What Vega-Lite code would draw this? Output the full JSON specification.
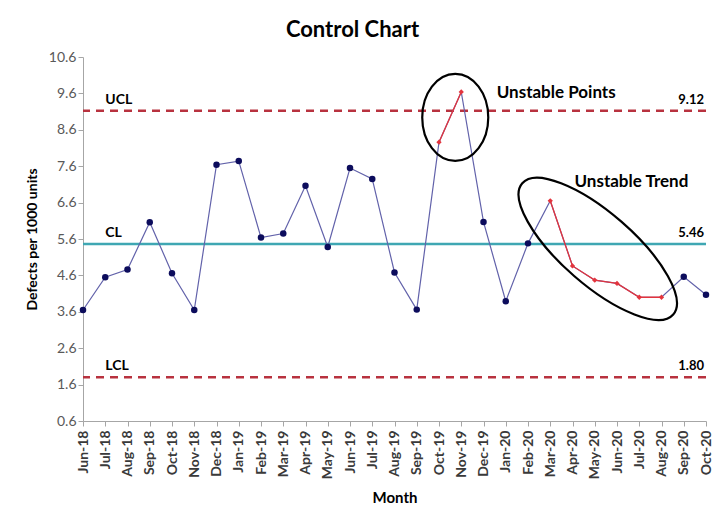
{
  "$schema": "https://vega.github.io/schema/vega-lite/v6.json",
  "description": "Control chart of defects per 1000 units with control limits and flagged unstable points.",
  "width": 623,
  "height": 364,
  "autosize": {"type": "none"},
  "padding": {"left": 83, "top": 57, "right": 14, "bottom": 103},
  "background": "#ffffff",
  "title": {
    "text": "Control Chart",
    "font": "Lato",
    "fontSize": 22,
    "fontWeight": "bold",
    "color": "#000000",
    "anchor": "middle",
    "dx": -42,
    "offset": 8
  },
  "datasets": {
    "series": [
      {"month": "Jun-18", "defects": 3.65, "flag": ""},
      {"month": "Jul-18", "defects": 4.55, "flag": ""},
      {"month": "Aug-18", "defects": 4.76, "flag": ""},
      {"month": "Sep-18", "defects": 6.06, "flag": ""},
      {"month": "Oct-18", "defects": 4.66, "flag": ""},
      {"month": "Nov-18", "defects": 3.65, "flag": ""},
      {"month": "Dec-18", "defects": 7.64, "flag": ""},
      {"month": "Jan-19", "defects": 7.74, "flag": ""},
      {"month": "Feb-19", "defects": 5.64, "flag": ""},
      {"month": "Mar-19", "defects": 5.75, "flag": ""},
      {"month": "Apr-19", "defects": 7.06, "flag": ""},
      {"month": "May-19", "defects": 5.38, "flag": ""},
      {"month": "Jun-19", "defects": 7.55, "flag": ""},
      {"month": "Jul-19", "defects": 7.25, "flag": ""},
      {"month": "Aug-19", "defects": 4.68, "flag": ""},
      {"month": "Sep-19", "defects": 3.66, "flag": ""},
      {"month": "Oct-19", "defects": 8.26, "flag": "points"},
      {"month": "Nov-19", "defects": 9.64, "flag": "points"},
      {"month": "Dec-19", "defects": 6.07, "flag": ""},
      {"month": "Jan-20", "defects": 3.89, "flag": ""},
      {"month": "Feb-20", "defects": 5.48, "flag": ""},
      {"month": "Mar-20", "defects": 6.65, "flag": "trend"},
      {"month": "Apr-20", "defects": 4.86, "flag": "trend"},
      {"month": "May-20", "defects": 4.47, "flag": "trend"},
      {"month": "Jun-20", "defects": 4.38, "flag": "trend"},
      {"month": "Jul-20", "defects": 4.0, "flag": "trend"},
      {"month": "Aug-20", "defects": 4.0, "flag": "trend"},
      {"month": "Sep-20", "defects": 4.56, "flag": ""},
      {"month": "Oct-20", "defects": 4.07, "flag": ""}
    ],
    "limits": [
      {"name": "UCL", "value": 9.12},
      {"name": "CL", "value": 5.46},
      {"name": "LCL", "value": 1.8}
    ],
    "notes": [
      {"note": "Unstable Points", "month": "Jan-20", "value": 9.6},
      {"note": "Unstable Trend", "month": "Apr-20", "value": 7.16}
    ],
    "rings": [
      {"ring": "points", "month": "Nov-19", "value": 8.94},
      {"ring": "trend", "month": "May-20", "value": 5.33}
    ]
  },
  "encoding": {
    "x": {
      "field": "month",
      "type": "ordinal",
      "title": "Month",
      "scale": {
        "type": "point",
        "padding": 0,
        "domain": ["Jun-18", "Jul-18", "Aug-18", "Sep-18", "Oct-18", "Nov-18", "Dec-18",
                   "Jan-19", "Feb-19", "Mar-19", "Apr-19", "May-19", "Jun-19", "Jul-19", "Aug-19", "Sep-19", "Oct-19", "Nov-19", "Dec-19",
                   "Jan-20", "Feb-20", "Mar-20", "Apr-20", "May-20", "Jun-20", "Jul-20", "Aug-20", "Sep-20", "Oct-20"]
      },
      "axis": {
        "labelAngle": -90,
        "labelFontWeight": "bold",
        "labelFontSize": 14,
        "labelColor": "#3a3a3a",
        "labelPadding": 4,
        "titleFontSize": 15,
        "titlePadding": 12
      }
    },
    "y": {
      "field": "value",
      "type": "quantitative",
      "title": "Defects per 1000 units",
      "scale": {"domain": [0.6, 10.6], "nice": false, "zero": false},
      "axis": {
        "values": [0.6, 1.6, 2.6, 3.6, 4.6, 5.6, 6.6, 7.6, 8.6, 9.6, 10.6],
        "format": ".1f",
        "labelFontSize": 14,
        "labelColor": "#595959",
        "titleFontSize": 14,
        "titlePadding": 9
      }
    }
  },
  "layer": [
    {
      "data": {"name": "limits"},
      "transform": [{"filter": "datum.name != 'CL'"}],
      "mark": {"type": "rule", "color": "#b8323f", "strokeWidth": 2.5, "strokeDash": [8, 6]},
      "encoding": {"x": null}
    },
    {
      "data": {"name": "limits"},
      "transform": [{"filter": "datum.name == 'CL'"}],
      "mark": {"type": "rule", "color": "#3fa7b3", "strokeWidth": 2.5},
      "encoding": {"x": null}
    },
    {
      "data": {"name": "limits"},
      "mark": {"type": "text", "align": "left", "baseline": "bottom", "dy": -4, "fontSize": 14, "fontWeight": "bold", "color": "#000000"},
      "encoding": {"x": {"datum": "Jul-18"}, "text": {"field": "name"}}
    },
    {
      "data": {"name": "limits"},
      "mark": {"type": "text", "align": "right", "baseline": "bottom", "dy": -4, "dx": -2, "fontSize": 13, "fontWeight": "bold", "color": "#000000"},
      "encoding": {"x": {"datum": "Oct-20"}, "text": {"field": "value", "format": ".2f"}}
    },
    {
      "data": {"name": "series"},
      "mark": {"type": "line", "color": "#6262aa", "strokeWidth": 1.2},
      "encoding": {"y": {"field": "defects", "type": "quantitative"}}
    },
    {
      "data": {"name": "series"},
      "transform": [{"filter": "datum.flag != ''"}],
      "mark": {"type": "line", "color": "#e3343d", "strokeWidth": 1.3},
      "encoding": {"y": {"field": "defects", "type": "quantitative"}, "detail": {"field": "flag"}}
    },
    {
      "data": {"name": "series"},
      "transform": [{"filter": "datum.flag == ''"}],
      "mark": {"type": "point", "shape": "circle", "filled": true, "size": 42, "color": "#0c0c5c", "opacity": 1},
      "encoding": {"y": {"field": "defects", "type": "quantitative"}}
    },
    {
      "data": {"name": "series"},
      "transform": [{"filter": "datum.flag != ''"}],
      "mark": {"type": "point", "shape": "diamond", "filled": true, "size": 28, "color": "#e3343d", "opacity": 1},
      "encoding": {"y": {"field": "defects", "type": "quantitative"}}
    },
    {
      "data": {"name": "notes"},
      "transform": [{"filter": "datum.note == 'Unstable Points'"}],
      "mark": {"type": "text", "align": "left", "baseline": "middle", "dx": -9, "fontSize": 17, "fontWeight": "bold", "color": "#000000"},
      "encoding": {"text": {"field": "note"}}
    },
    {
      "data": {"name": "notes"},
      "transform": [{"filter": "datum.note == 'Unstable Trend'"}],
      "mark": {"type": "text", "align": "left", "baseline": "middle", "dx": 2, "fontSize": 17, "fontWeight": "bold", "color": "#000000"},
      "encoding": {"text": {"field": "note"}}
    },
    {
      "data": {"name": "rings"},
      "transform": [{"filter": "datum.ring == 'points'"}],
      "mark": {
        "type": "point",
        "filled": false,
        "shape": "M0.759,0C0.759,0.552 0.419,1 0,1C-0.419,1 -0.759,0.552 -0.759,0C-0.759,-0.552 -0.419,-1 0,-1C0.419,-1 0.759,-0.552 0.759,0Z",
        "size": 7569,
        "xOffset": -6,
        "stroke": "#000000",
        "strokeWidth": 2.2,
        "opacity": 1
      }
    },
    {
      "data": {"name": "rings"},
      "transform": [{"filter": "datum.ring == 'trend'"}],
      "mark": {
        "type": "point",
        "filled": false,
        "shape": "M1,0C1,0.199 0.552,0.36 0,0.36C-0.552,0.36 -1,0.199 -1,0C-1,-0.199 -0.552,-0.36 0,-0.36C0.552,-0.36 1,-0.199 1,0Z",
        "size": 40000,
        "angle": 41,
        "xOffset": 3,
        "stroke": "#000000",
        "strokeWidth": 2.2,
        "opacity": 1
      }
    }
  ],
  "config": {
    "font": "Lato",
    "view": {"stroke": null},
    "axis": {
      "grid": false,
      "domainColor": "#a6a6a6",
      "tickColor": "#a6a6a6",
      "tickSize": 5,
      "titleFontWeight": "bold",
      "titleColor": "#000000"
    }
  }
}
